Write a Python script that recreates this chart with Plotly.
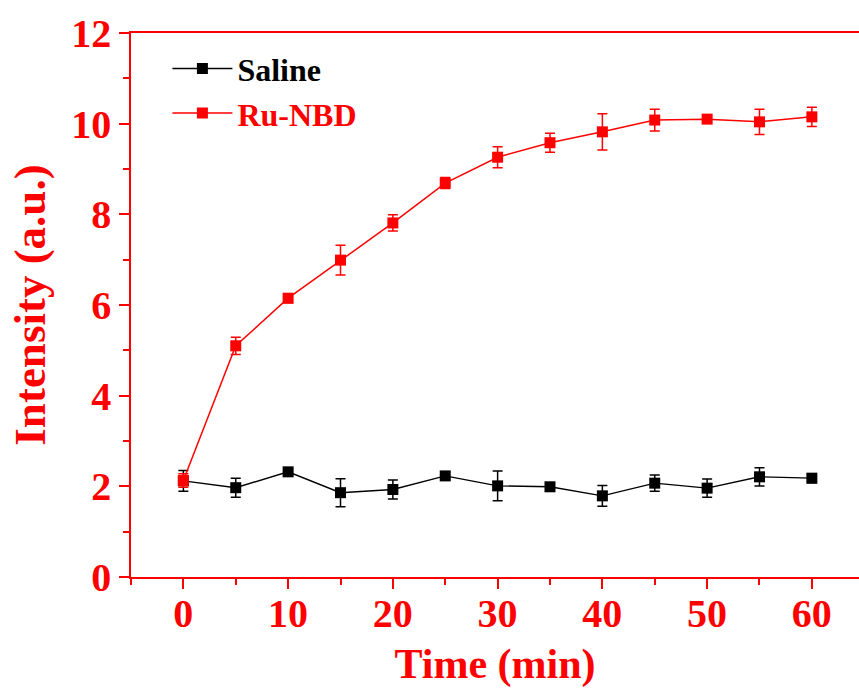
import plotly.graph_objects as go

time = [0, 5, 10, 15, 20, 25, 30, 35, 40, 45, 50, 55, 60]
saline = [2.12, 1.97, 2.32, 1.86, 1.93, 2.23, 2.01, 1.99, 1.79, 2.07, 1.96, 2.21, 2.18]
saline_err = [0.23, 0.21, 0.07, 0.31, 0.21, 0.08, 0.33, 0.07, 0.23, 0.18, 0.2, 0.2, 0.1]
runbd = [2.13, 5.10, 6.15, 6.99, 7.81, 8.69, 9.26, 9.58, 9.82, 10.08, 10.10, 10.04, 10.15]
runbd_err = [0.15, 0.19, 0.1, 0.33, 0.18, 0.12, 0.23, 0.21, 0.4, 0.24, 0.08, 0.28, 0.21]

RED = "#ff0000"
FONT = "Liberation Serif"

fig = go.Figure()
fig.add_trace(go.Scatter(
    x=time, y=saline, name="<b>Saline</b>", mode="lines+markers",
    line=dict(color="black", width=1.4),
    marker=dict(symbol="square", size=11, color="black"),
    error_y=dict(type="data", array=saline_err, color="black", thickness=1.5, width=5),
))
fig.add_trace(go.Scatter(
    x=time, y=runbd, name="<b><span style='color:#ff0000'>Ru-NBD</span></b>", mode="lines+markers",
    line=dict(color=RED, width=1.5),
    marker=dict(symbol="square", size=11, color=RED),
    error_y=dict(type="data", array=runbd_err, color=RED, thickness=1.5, width=5),
))

axis_common = dict(
    showline=True, linecolor=RED, linewidth=1.5,
    ticks="outside", tickcolor=RED, tickwidth=1.5, ticklen=10,
    showgrid=False, zeroline=False,
    tickfont=dict(family=FONT, size=40, color=RED, weight="bold"),
)

fig.update_xaxes(
    range=[-5, 64.5], tickvals=[0, 10, 20, 30, 40, 50, 60], mirror=True,
    minor=dict(dtick=5, tick0=0, ticks="outside", ticklen=6, tickcolor=RED, tickwidth=1.5),
    title=dict(text="<b>Time (min)</b>", font=dict(family=FONT, size=42, color=RED), standoff=14),
    ticklabelstandoff=-10,
    **axis_common,
)
fig.update_yaxes(
    range=[0, 12], tickvals=[0, 2, 4, 6, 8, 10, 12],
    minor=dict(dtick=1, tick0=0, ticks="outside", ticklen=6, tickcolor=RED, tickwidth=1.5),
    title=dict(text="<b>Intensity (a.u.)</b>", font=dict(family=FONT, size=45, color=RED), standoff=12),
    **axis_common,
)

fig.update_layout(
    width=859, height=690,
    margin=dict(l=131, r=0, t=33, b=113),
    plot_bgcolor="white", paper_bgcolor="white",
    showlegend=True,
    legend=dict(x=0.05, y=0.985, xanchor="left", yanchor="top",
                font=dict(family=FONT, size=32, color="black"),
                bgcolor="rgba(0,0,0,0)", tracegroupgap=0, itemwidth=60),
)

fig.write_html("out.html")
